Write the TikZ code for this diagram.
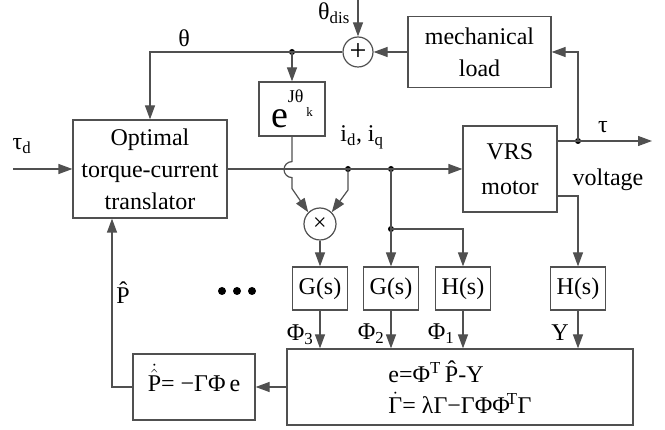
\documentclass[tikz,border=0pt]{standalone}
\usepackage{amsmath}
\usepackage{fontspec}
\setmainfont{Liberation Serif}
\usetikzlibrary{arrows.meta, calc}
\definecolor{linegray}{HTML}{505050}

\begin{document}
\begin{tikzpicture}[x=1pt, y=-1pt,
  every node/.style={font=\fontsize{24}{32}\selectfont},
  blk/.style={draw=linegray, line width=1.2pt, inner sep=0pt, align=center},
  fblk/.style={blk, minimum width=55pt, minimum height=43pt},
  junc/.style={circle, draw=linegray, line width=1.2pt, minimum size=30pt,
    inner sep=0pt},
  dot/.style={circle, fill=black, inner sep=0pt, minimum size=6pt},
  ln/.style={draw=linegray, line width=1.2pt},
  arr/.style={ln, -{Triangle[length=14pt, width=10pt]}}
]
  \useasboundingbox (0,0) rectangle (665,430);

  % Blocks
  \node[blk, minimum width=154pt, minimum height=98pt] (opt) at (150,169)
    {Optimal\\torque-current\\translator};
  \node[blk, minimum width=143pt, minimum height=71pt] (load) at (479.5,52)
    {mechanical\\load};
  \node[blk, minimum width=94pt, minimum height=86pt,
    font=\fontsize{24}{35}\selectfont] (motor) at (510,169) {VRS\\motor};
  \node[blk, minimum width=66pt, minimum height=54pt, text height=37pt,
    text depth=0pt] (rot) at (292,109)
    {{\fontsize{38}{38}\selectfont e}\raisebox{25pt}{\fontsize{18}{18}\selectfont Jθ}\hspace{3pt}\raisebox{11pt}{\fontsize{13}{13}\selectfont k}};
  \node[fblk] (g3) at (320,288.5) {G(s)};
  \node[fblk] (g2) at (391,288.5) {G(s)};
  \node[fblk] (h1) at (463,288.5) {H(s)};
  \node[fblk] (hy) at (578,288.5) {H(s)};
  \node[blk, minimum width=346pt, minimum height=76pt, align=left,
    font=\fontsize{24}{31}\selectfont] (est) at (460,387)
    {e=Φ\textsuperscript{T}\,\^{P}-Y\\$\dot{\text{Γ}}$= λΓ−ΓΦΦ\kern-3pt\textsuperscript{T}Γ};
  \node[blk, minimum width=122pt, minimum height=66pt,
    text height=20pt, text depth=10pt] (upd) at (194,387)
    {$\dot{\hat{\text{P}}}$= −ΓΦ\,e};

  % Junctions
  \node[junc, font=\fontsize{30}{30}\selectfont] (sum) at (358,52) {+};
  \node[junc, minimum size=32pt] (mult) at (320,224) {×};
  \node[dot] (dth) at (292,52) {};
  \node[dot] (dtau) at (578,141) {};
  \node[dot] (dcur1) at (348,169) {};
  \node[dot] (dcur2) at (391,169) {};
  \node[dot] (dsplit) at (391,229) {};
  \coordinate (tin) at (13,169);
  \coordinate (tout) at (652,141);
  \coordinate (dis) at (358,0);

  % Labels
  \node (ltaud) at (22,146) {τ\textsubscript{d}};
  \node (lth) at (184,38) {θ};
  \node (lthdis) at (334,13) {θ\textsubscript{dis}};
  \node (lidq) at (362,137) {i\textsubscript{d}, i\textsubscript{q}};
  \node (ltau) at (603,127) {τ};
  \node (lvolt) at (608,180) {voltage};
  \node (lphi3) at (300,335) {Φ\textsubscript{3}};
  \node (lphi2) at (371,334) {Φ\textsubscript{2}};
  \node (lphi1) at (441,334) {Φ\textsubscript{1}};
  \node (ly) at (560,333) {Y};
  \node (lphat) at (123,293) {\^{P}};
  \foreach \x in {222,237,252}
    \fill (\x,291) circle[radius=4pt];

  % Connectors
  \draw[arr] (tin) -- (opt.west);
  \draw[arr] (dis) -- (sum.north);
  \draw[arr] (load.west) -- (sum.east);
  \draw[arr] (sum.west) -| (opt.north);
  \draw[arr] (dth.center) -- (rot.north);
  \draw[arr] (opt.east) -- (motor.west);
  \draw[ln] (motor.east |- dtau) -- (dtau.center);
  \draw[arr] (dtau.center) -- (tout);
  \draw[arr] (dtau.center) |- (load.east);
  \draw[arr] ([yshift=-27pt]motor.east) -| (hy.north);
  \draw[arr] (rot.south) -- ++(0,25) arc[start angle=270, end angle=90, radius=8]
    -- ++(0,11) -- (mult.north west);
  \draw[arr] (dcur1.center) -- ++(0,21) -- (mult.north east);
  \draw[arr] (mult.south) -- (g3.north);
  \draw[arr] (dcur2.center) -- (g2.north);
  \draw[arr] (dsplit.center) -| (h1.north);
  \draw[arr] (g3.south) -- (g3.south |- est.north);
  \draw[arr] (g2.south) -- (g2.south |- est.north);
  \draw[arr] (h1.south) -- (h1.south |- est.north);
  \draw[arr] (hy.south) -- (hy.south |- est.north);
  \draw[arr] (est.west) -- (upd.east);
  \draw[arr] (upd.west) -| ([xshift=-38pt]opt.south);
\end{tikzpicture}
\end{document}
